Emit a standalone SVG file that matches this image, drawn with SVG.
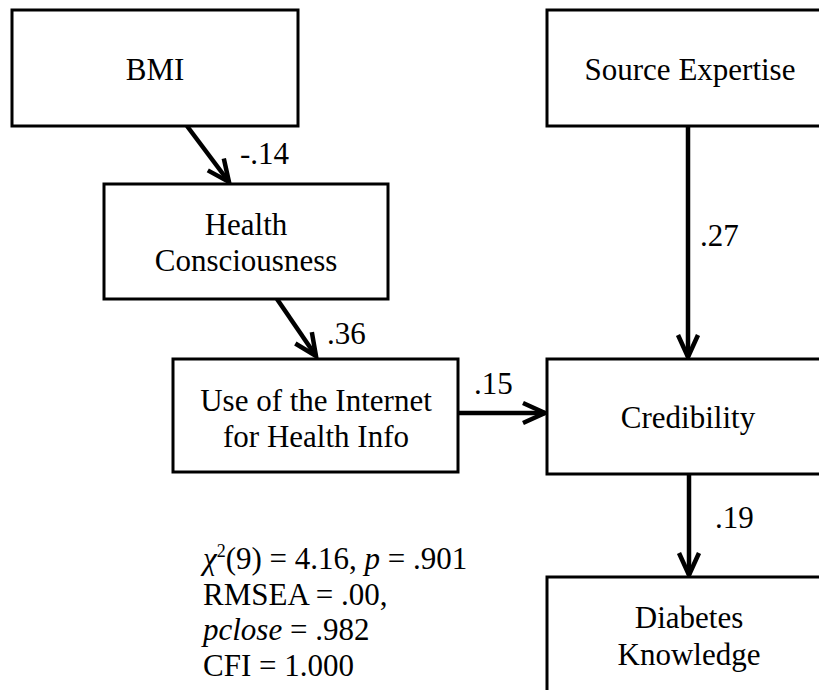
<svg xmlns="http://www.w3.org/2000/svg" width="819" height="690" viewBox="0 0 819 690">
<style>
  .box { fill: #fff; stroke: #000; stroke-width: 3; }
  .t { font-family: 'Liberation Serif', 'DejaVu Serif', 'Times New Roman', Times, serif; font-size: 31px; fill: #000; }
  .c { text-anchor: middle; }
  .edge { stroke: #000; stroke-width: 4.5; fill: none; }
</style>
<defs>
  <marker id="arr" markerUnits="userSpaceOnUse" markerWidth="40" markerHeight="40" refX="0" refY="0" viewBox="-30 -20 40 40" orient="auto" overflow="visible">
    <path d="M-22,-10 L0,0 L-22,10" fill="none" stroke="#000" stroke-width="4.5" stroke-linejoin="miter"/>
  </marker>
</defs>
<rect width="819" height="690" fill="#fff"/>
<g id="connectors">
  <line class="edge" x1="187" y1="126" x2="229" y2="182" marker-end="url(#arr)"/>
  <line class="edge" x1="277" y1="299" x2="316" y2="356" marker-end="url(#arr)"/>
  <line class="edge" x1="458" y1="413" x2="545" y2="413" marker-end="url(#arr)"/>
  <line class="edge" x1="688" y1="126" x2="688" y2="357" marker-end="url(#arr)"/>
  <line class="edge" x1="689" y1="474" x2="689" y2="575" marker-end="url(#arr)"/>
  <text class="t" x="240" y="164">-.14</text>
  <text class="t" x="327" y="344">.36</text>
  <text class="t" x="474" y="394">.15</text>
  <text class="t" x="700" y="246">.27</text>
  <text class="t" x="715" y="528">.19</text>
</g>
<g id="bmi">
  <rect class="box" x="12" y="10" width="286" height="116"/>
  <text class="t c" x="155" y="80">BMI</text>
</g>
<g id="source-expertise">
  <rect class="box" x="547" y="10" width="290" height="116"/>
  <text class="t c" x="690" y="80">Source Expertise</text>
</g>
<g id="health-consciousness">
  <rect class="box" x="104" y="184" width="284" height="115"/>
  <text class="t c" x="246" y="235">Health</text>
  <text class="t c" x="246" y="271">Consciousness</text>
</g>
<g id="internet-use">
  <rect class="box" x="173" y="359" width="285" height="113"/>
  <text class="t c" x="316" y="411">Use of the Internet</text>
  <text class="t c" x="316" y="447">for Health Info</text>
</g>
<g id="credibility">
  <rect class="box" x="547" y="359" width="290" height="115"/>
  <text class="t c" x="688" y="428">Credibility</text>
</g>
<g id="diabetes-knowledge">
  <rect class="box" x="547" y="577" width="290" height="130"/>
  <text class="t c" x="689" y="628">Diabetes</text>
  <text class="t c" x="689" y="665">Knowledge</text>
</g>
<g id="fit-stats">
  <text class="t" x="203" y="569"><tspan font-style="italic">χ</tspan><tspan font-size="18" dy="-12">2</tspan><tspan dy="12">(9) = 4.16, </tspan><tspan font-style="italic">p</tspan> = .901</text>
  <text class="t" x="203" y="605">RMSEA = .00,</text>
  <text class="t" x="203" y="640"><tspan font-style="italic">pclose</tspan> = .982</text>
  <text class="t" x="203" y="676">CFI = 1.000</text>
</g>
</svg>
